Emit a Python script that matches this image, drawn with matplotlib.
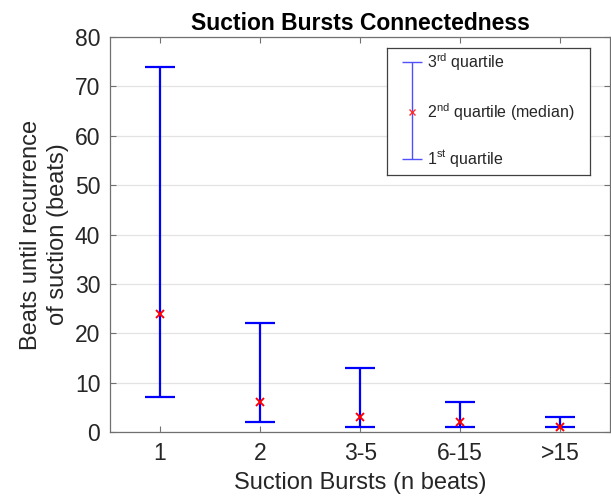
import numpy as np
import matplotlib
matplotlib.use('Agg')
import matplotlib.pyplot as plt

# Données
categories = ['1', '2', '3-5', '6-15', '>15']
q1 = [7, 2, 1, 1, 1]
medianes = [24, 6, 3, 2, 1]
q3 = [74, 22, 13, 6, 3]

plt.rcParams['font.family'] = ['Liberation Sans', 'DejaVu Sans']
plt.rcParams['mathtext.fontset'] = 'custom'
plt.rcParams['mathtext.rm'] = 'Liberation Sans'

GRIS = '#262626'
SPINE = '#707070'

fig = plt.figure(figsize=(6.11, 4.98), dpi=100)
ax = fig.add_axes([0.18, 0.1325, 0.819, 0.7932])

x = np.arange(1, len(categories) + 1)
med = np.array(medianes)
err = [med - np.array(q1), np.array(q3) - med]

ax.errorbar(x, med, yerr=err, fmt='none', ecolor='#0000ff',
            elinewidth=1.6, capsize=10.8, capthick=1.6, zorder=3)
ax.plot(x, med, 'x', color='#ff0000', markersize=6, mew=1.4, zorder=4)

ax.set_xlim(0.5, 5.5)
ax.set_ylim(0, 80)
ax.set_xticks(x)
ax.set_xticklabels(categories)
ax.set_yticks(range(0, 81, 10))

ax.grid(axis='y', color='#e3e3e3', linewidth=0.9)
ax.set_axisbelow(True)
for s in ax.spines.values():
    s.set_color(SPINE)
    s.set_linewidth(0.9)
ax.tick_params(direction='in', top=True, right=True, length=4, width=0.8,
               color=SPINE, labelsize=16.5, labelcolor=GRIS, pad=7)

ax.set_xlabel('Suction Bursts (n beats)', fontsize=17, color=GRIS, labelpad=5)
ax.set_ylabel('Beats until recurrence\nof suction (beats)', fontsize=17,
              color=GRIS, labelpad=4, linespacing=1.3)
ax.set_title('Suction Bursts Connectedness', fontsize=16.5, fontweight='bold',
             color='black', pad=5)

# Légende façon MATLAB (boîte avec le glyphe d'une barre)
leg = fig.add_axes([0.633, 0.6486, 0.332, 0.255])
leg.set_xlim(0, 1)
leg.set_ylim(0, 1)
leg.set_xticks([])
leg.set_yticks([])
for s in leg.spines.values():
    s.set_color('#404040')
    s.set_linewidth(0.9)
leg.errorbar([0.123], [0.496], yerr=[[0.37], [0.394]], fmt='none',
             ecolor='#5050ff', elinewidth=1.0, capsize=7.2, capthick=1.0)
leg.plot([0.123], [0.496], 'x', color='#ff3030', markersize=4, mew=1.0)
leg.text(0.197, 0.89, '3$^{\\mathrm{rd}}$ quartile', fontsize=11.5, color=GRIS, va='center')
leg.text(0.197, 0.496, '2$^{\\mathrm{nd}}$ quartile (median)', fontsize=11.5, color=GRIS, va='center')
leg.text(0.197, 0.126, '1$^{\\mathrm{st}}$ quartile', fontsize=11.5, color=GRIS, va='center')

fig.savefig('out.png', dpi=100)
